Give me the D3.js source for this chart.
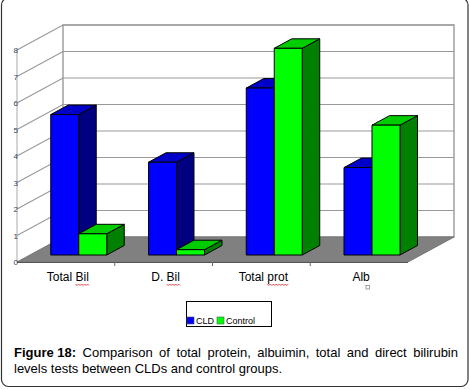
<!DOCTYPE html>
<html>
<head>
<meta charset="utf-8">
<script src="https://cdn.jsdelivr.net/npm/d3@7"></script>
<style>
    body { margin: 0; background: #fff; }
    svg { display: block; font-family: "Liberation Sans", Arial, sans-serif; }
</style>
</head>
<body>
<script>
// Data
const categories = ["Total Bil", "D. Bil", "Total prot", "Alb"];
const series_names = ["CLD", "Control"];
const cld_values = [5.3, 3.5, 6.3, 3.3];
const control_values = [0.8, 0.2, 7.8, 4.9];
const y_ticks = [0, 1, 2, 3, 4, 5, 6, 7, 8];
const caption_bold = "Figure 18:";
const caption_line1 = "Comparison of total protein, albuimin, total and direct bilirubin";
const caption_line2 = "levels tests between CLDs and control groups.";

const svgWidth = 470;
const svgHeight = 390;

// front plane of the 3d box and its depth offset
const plot = {left: 17, right: 408, top: 50, bottom: 262}
const depth = {dx: 46, dy: -25}
const bar_depth = {t0: 0.28, t1: 0.66}

const colors = {
    CLD: {front: "#0000ff", top: "#0000c8", side: "#000080"},
    Control: {front: "#00ff00", top: "#00cc00", side: "#008000"}
}

window.onload = main;

function main() {
    const svg = d3.select("body")
        .append("svg")
        .attr("width", svgWidth)
        .attr("height", svgHeight);

    // outer frame
    svg.append("rect")
        .attr("x", 1.5).attr("y", -2)
        .attr("width", 466.5).attr("height", 388.5)
        .attr("rx", 7)
        .attr("fill", "none")
        .attr("stroke", "#333")
        .attr("stroke-width", 1.2);

    const x = d3.scaleBand()
        .domain(categories)
        .range([plot.left, plot.right]);
    const x_inner = d3.scaleBand()
        .domain(series_names)
        .range([0, 56]);
    const y = d3.scaleLinear()
        .domain([0, 8])
        .range([plot.bottom, plot.top]);

    const off = t => [depth.dx * t, depth.dy * t];

    // back wall
    const back_left = plot.left + depth.dx;
    const back_right = plot.right + depth.dx;
    svg.append("rect")
        .attr("x", back_left).attr("y", y(8) + depth.dy)
        .attr("width", back_right - back_left)
        .attr("height", y(0) - y(8))
        .attr("fill", "#fff")
        .attr("stroke", "#a0a0a0")
        .attr("stroke-width", 1.5);

    // gridlines: left wall diagonal + back wall horizontal
    const grid = svg.append("g").attr("fill", "none");
    grid.selectAll("path")
        .data(y_ticks.filter(d => d > 0))
        .join("path")
        .attr("d", d => `M${plot.left},${y(d)}L${back_left},${y(d) + depth.dy}L${back_right},${y(d) + depth.dy}`)
        .attr("stroke", "#999")
        .attr("stroke-width", 1.2);

    // left wall front edge
    svg.append("line")
        .attr("x1", plot.left).attr("x2", plot.left)
        .attr("y1", y(0)).attr("y2", y(8))
        .attr("stroke", "#aaa");

    // floor
    const floor_pts = [
        [plot.left, y(0)], [plot.right, y(0)],
        [back_right, y(0) + depth.dy], [back_left, y(0) + depth.dy]
    ];
    svg.append("path")
        .attr("d", "M" + floor_pts.join("L") + "Z")
        .attr("fill", "#808080")
        .attr("stroke", "#777");

    // floor front edge with category ticks
    svg.append("line")
        .attr("x1", plot.left).attr("x2", plot.right)
        .attr("y1", y(0) + 0.5).attr("y2", y(0) + 0.5)
        .attr("stroke", "#555");
    svg.append("g")
        .selectAll("line")
        .data(categories.slice(1))
        .join("line")
        .attr("x1", d => x(d)).attr("x2", d => x(d))
        .attr("y1", y(0)).attr("y2", y(0) + 4)
        .attr("stroke", "#666");

    // y tick labels
    svg.append("g")
        .selectAll("text")
        .data(y_ticks)
        .join("text")
        .text(d => d)
        .attr("x", plot.left + 1)
        .attr("y", d => y(d) + 3)
        .attr("text-anchor", "end")
        .attr("fill", "#334466")
        .style("font-size", "8px");

    // bars
    const rows = categories.map((c, i) => ({
        category: c,
        values: [
            {name: "CLD", value: cld_values[i]},
            {name: "Control", value: control_values[i]}
        ]
    }));
    const [fx, fy] = off(bar_depth.t0);
    const [bx, by] = off(bar_depth.t1);
    const bars = svg.append("g")
        .attr("stroke", "#000")
        .attr("stroke-width", 1)
        .attr("stroke-linejoin", "round");

    rows.forEach(row => {
        const x0 = x(row.category) + x.bandwidth() / 2 - 28;
        row.values.forEach(v => {
            const left = x0 + x_inner(v.name) + fx;
            const right = left + x_inner.bandwidth();
            const top = y(v.value) + fy;
            const bottom = y(0) + fy;
            const col = colors[v.name];
            const g = bars.append("g");
            // side face
            g.append("path")
                .attr("d", `M${right},${top}L${right + bx - fx},${top + by - fy}L${right + bx - fx},${bottom + by - fy}L${right},${bottom}Z`)
                .attr("fill", col.side);
            // top face
            g.append("path")
                .attr("d", `M${left},${top}L${right},${top}L${right + bx - fx},${top + by - fy}L${left + bx - fx},${top + by - fy}Z`)
                .attr("fill", col.top);
            // front face
            g.append("rect")
                .attr("x", left).attr("y", top)
                .attr("width", right - left)
                .attr("height", bottom - top)
                .attr("fill", col.front);
        });
    });

    // category labels
    const labels = svg.append("g")
        .selectAll("text")
        .data(categories)
        .join("text")
        .text(d => d)
        .attr("x", d => x(d) + x.bandwidth() / 2 + 2)
        .attr("y", 281)
        .attr("text-anchor", "middle")
        .attr("fill", "#000")
        .style("font-size", "12px");

    // red spell-check squiggles under some words
    const squiggle_words = {"Total Bil": "Bil", "D. Bil": "Bil", "Total prot": "prot"};
    labels.each(function (d) {
        const word = squiggle_words[d];
        if (!word) return;
        const node = this;
        const start = d.indexOf(word);
        const bbox = node.getBBox();
        const x_start = bbox.x + node.getSubStringLength(0, start);
        const x_end = x_start + node.getSubStringLength(start, word.length);
        let path = `M${x_start},284`;
        for (let xx = x_start, k = 0; xx < x_end; xx += 1.5, k++) {
            path += `L${xx + 1.5},${k % 2 === 0 ? 285.5 : 284}`;
        }
        svg.append("path")
            .attr("d", path)
            .attr("fill", "none")
            .attr("stroke", "#e02020")
            .attr("stroke-width", 0.8);
    });
    // little square after Alb
    svg.append("rect")
        .attr("x", 366).attr("y", 285.5)
        .attr("width", 3.5).attr("height", 3.5)
        .attr("fill", "none")
        .attr("stroke", "#888")
        .attr("stroke-width", 0.8);

    create_legend(svg);
    create_caption(svg);
}

function create_legend(svg) {
    const legend = svg.append("g").attr("id", "legend");
    legend.append("rect")
        .attr("x", 186.5).attr("y", 301.5)
        .attr("width", 85).attr("height", 25)
        .attr("fill", "#fff")
        .attr("stroke", "#000");

    const items = legend.selectAll("g")
        .data(series_names)
        .join("g")
        .attr("transform", (d, i) => `translate(${187 + i * 30}, 317)`);
    items.append("rect")
        .attr("width", 7).attr("height", 7)
        .attr("fill", d => colors[d].front)
        .attr("stroke", "#555")
        .attr("stroke-width", 0.6);
    items.append("text")
        .text(d => d)
        .attr("x", 9)
        .attr("y", 7)
        .attr("fill", "#000")
        .style("font-size", "9px");
}

function create_caption(svg) {
    const font_size = 13;
    const left = 14, right = 458;
    const g = svg.append("g").style("font-size", font_size + "px").attr("fill", "#000");

    // first line: justified, word by word
    const words = [caption_bold].concat(caption_line1.split(" "));
    const texts = words.map((w, i) => g.append("text")
        .text(w)
        .attr("y", 357)
        .style("font-weight", i === 0 ? "bold" : "normal"));
    const widths = texts.map(t => t.node().getComputedTextLength());
    const gap = (right - left - d3.sum(widths)) / (words.length - 1);
    let cursor = left;
    texts.forEach((t, i) => {
        t.attr("x", cursor);
        cursor += widths[i] + gap;
    });

    g.append("text")
        .text(caption_line2)
        .attr("x", left)
        .attr("y", 373);
}
</script>
</body>
</html>
